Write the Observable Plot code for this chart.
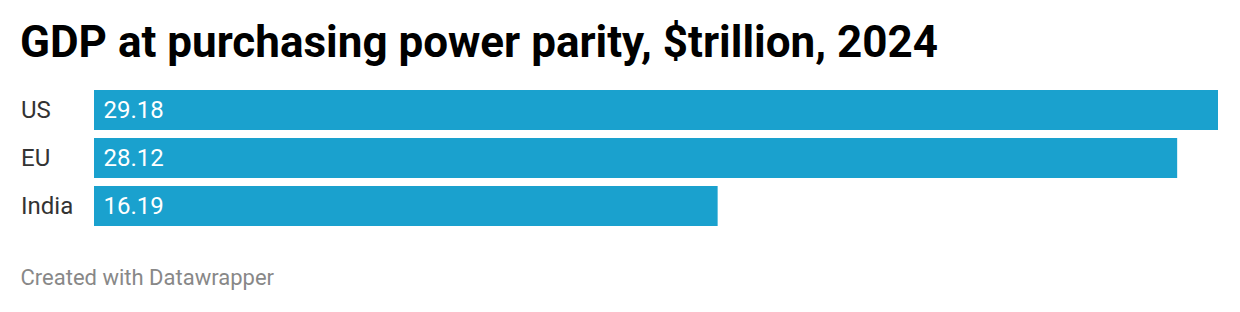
<!DOCTYPE html>
<html>
<head>
<meta charset="utf-8">
<script src="https://cdn.jsdelivr.net/npm/d3@7"></script>
<script src="https://cdn.jsdelivr.net/npm/@observablehq/plot@0.6"></script>
<style>
  html, body { margin: 0; padding: 0; background: #fff; }
  body { width: 1240px; height: 312px; position: relative; font-family: Roboto, sans-serif; overflow: hidden; }
  #title { position: absolute; left: 20px; top: 20px; font-size: 44px; line-height: 44px; font-weight: 700; color: #000; white-space: nowrap; }
  #chart { position: absolute; left: 0; top: 84px; }
  #footer { position: absolute; left: 20.5px; top: 266.5px; font-size: 22px; line-height: 22px; color: #888; white-space: nowrap; }
</style>
</head>
<body>
<div id="title">GDP at purchasing power parity, $trillion, 2024</div>
<div id="chart"></div>
<div id="footer">Created with Datawrapper</div>
<script>
const countries = ["US", "EU", "India"];
const gdpValues = [29.18, 28.12, 16.19];
const valueLabels = ["29.18", "28.12", "16.19"];

const rows = countries.map((c, i) => ({country: c, value: gdpValues[i], label: valueLabels[i]}));

const chart = Plot.plot({
  width: 1240,
  height: 150,
  marginTop: 6,
  marginBottom: 8,
  marginLeft: 94,
  marginRight: 22,
  style: {fontFamily: "Roboto, sans-serif", background: "transparent"},
  x: {domain: [0, 29.18], axis: null},
  y: {domain: countries, paddingInner: 1/6, paddingOuter: 0, axis: null},
  marks: [
    Plot.barX(rows, {x: "value", y: "country", fill: "#1aa1ce"}),
    Plot.text(rows, {x: () => 0, y: "country", text: "country", textAnchor: "start", dx: -73.5, fontSize: 24, fill: "#333"}),
    Plot.text(rows, {x: () => 0, y: "country", text: "label", textAnchor: "start", dx: 9, fontSize: 24, fill: "#fff"})
  ]
});
document.getElementById("chart").appendChild(chart);
</script>
</body>
</html>
